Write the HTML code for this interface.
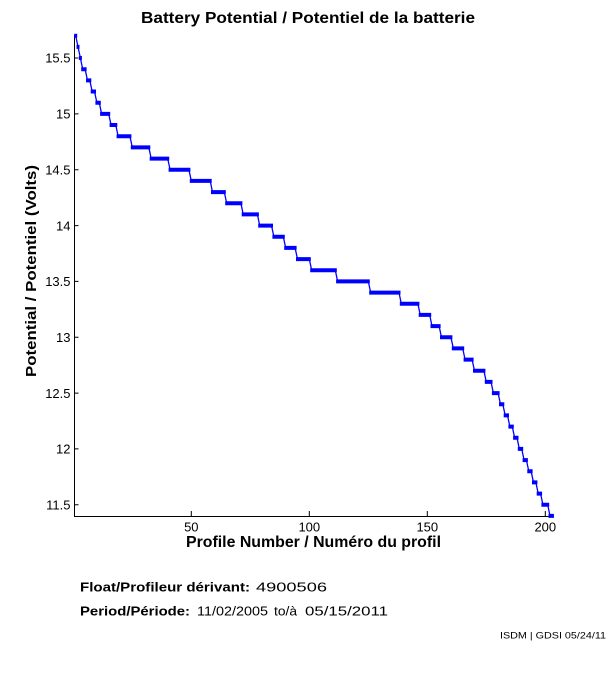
<!DOCTYPE html>
<html><head><meta charset="utf-8"><style>
html,body{margin:0;padding:0;background:#fff;}
svg{display:block;}
text{font-family:"Liberation Sans",Arial,sans-serif;fill:#000;}
</style></head><body>
<svg width="611" height="675" viewBox="0 0 611 675" xmlns="http://www.w3.org/2000/svg">
<rect width="611" height="675" fill="#fff"/>
<text x="141" y="23" font-size="16" font-weight="bold" textLength="334" lengthAdjust="spacingAndGlyphs">Battery Potential / Potentiel de la batterie</text>
<!-- axes -->
<path d="M74.5 35V516.5H554" fill="none" stroke="#000" stroke-width="1"/>
<!-- y ticks -->
<path d="M74 504.7H78.5M74 448.9H78.5M74 393.1H78.5M74 337.2H78.5M74 281.4H78.5M74 225.6H78.5M74 169.7H78.5M74 113.9H78.5M74 58H78.5" stroke="#000" stroke-width="1"/>
<!-- x ticks -->
<path d="M191.3 516V511M309.3 516V511M427.3 516V511M545.3 516V511" stroke="#000" stroke-width="1"/>
<g font-size="13" text-anchor="end">
<text x="70.5" y="509.4">11.5</text>
<text x="70.5" y="453.6">12</text>
<text x="70.5" y="397.8">12.5</text>
<text x="70.5" y="341.9">13</text>
<text x="70.5" y="286.1">13.5</text>
<text x="70.5" y="230.3">14</text>
<text x="70.5" y="174.4">14.5</text>
<text x="70.5" y="118.6">15</text>
<text x="70.5" y="62.7">15.5</text>
</g>
<g font-size="13" text-anchor="middle">
<text x="191.3" y="531.5">50</text>
<text x="309.3" y="531.5">100</text>
<text x="427.3" y="531.5">150</text>
<text x="545.3" y="531.5">200</text>
</g>
<text x="186" y="547" font-size="16" font-weight="bold" textLength="255" lengthAdjust="spacingAndGlyphs">Profile Number / Numéro du profil</text>
<text transform="translate(36,271) rotate(-90)" text-anchor="middle" font-size="15" font-weight="bold" textLength="212" lengthAdjust="spacingAndGlyphs">Potential / Potentiel (Volts)</text>
<!-- data line -->
<path fill="none" stroke="#0000ff" stroke-width="1.3" d="M75.7 35.7L78.0 46.9L80.4 58.0L82.7 69.2H85.1L87.5 80.4H89.8L92.2 91.5H94.5L96.9 102.7H99.3L101.6 113.9H108.7L111.1 125.0H115.8L118.1 136.2H129.9L132.3 147.4H148.8L151.2 158.6H167.7L170.1 169.7H188.9L191.3 180.9H210.2L212.5 192.1H224.3L226.7 203.2H240.9L243.2 214.4H257.4L259.7 225.6H271.5L273.9 236.7H283.3L285.7 247.9H295.1L297.5 259.1H309.3L311.7 270.2H335.3L337.6 281.4H368.3L370.7 292.6H399.0L401.3 303.7H417.9L420.2 314.9H429.7L432.0 326.1H439.1L441.5 337.2H450.9L453.3 348.4H462.7L465.1 359.6H472.1L474.5 370.7H483.9L486.3 381.9H491.0L493.4 393.1H498.1L500.5 404.2H502.8L505.2 415.4H507.5L509.9 426.6H512.3L514.6 437.7H517.0L519.3 448.9H521.7L524.1 460.1H526.4L528.8 471.2H531.1L533.5 482.4H535.9L538.2 493.6H540.6L542.9 504.7H547.7L550.0 515.9H552.4"/>
<!-- marker bands -->
<path fill="none" stroke="#0000ff" stroke-width="4" d="M74.2 35.7H77.2M76.5 46.9H79.5M78.9 58.0H81.9M81.2 69.2H86.6M86.0 80.4H91.3M90.7 91.5H96.0M95.4 102.7H100.8M100.1 113.9H110.2M109.6 125.0H117.3M116.6 136.2H131.4M130.8 147.4H150.3M149.7 158.6H169.2M168.6 169.7H190.4M189.8 180.9H211.7M211.0 192.1H225.8M225.2 203.2H242.4M241.7 214.4H258.9M258.2 225.6H273.0M272.4 236.7H284.8M284.2 247.9H296.6M296.0 259.1H310.8M310.2 270.2H336.8M336.1 281.4H369.8M369.2 292.6H400.5M399.8 303.7H419.4M418.7 314.9H431.2M430.5 326.1H440.6M440.0 337.2H452.4M451.8 348.4H464.2M463.6 359.6H473.6M473.0 370.7H485.4M484.8 381.9H492.5M491.9 393.1H499.6M499.0 404.2H504.3M503.7 415.4H509.0M508.4 426.6H513.8M513.1 437.7H518.5M517.8 448.9H523.2M522.6 460.1H527.9M527.3 471.2H532.6M532.0 482.4H537.4M536.7 493.6H542.1M541.4 504.7H549.2M548.5 515.9H553.9"/>
<!-- footer text -->
<text x="80" y="591.3" font-size="13" font-weight="bold" textLength="170" lengthAdjust="spacingAndGlyphs">Float/Profileur dérivant:</text>
<text x="256" y="591.3" font-size="13" textLength="71" lengthAdjust="spacingAndGlyphs">4900506</text>
<text x="80" y="615.3" font-size="13" font-weight="bold" textLength="110" lengthAdjust="spacingAndGlyphs">Period/Période:</text>
<text x="197" y="615.3" font-size="13" textLength="71" lengthAdjust="spacingAndGlyphs">11/02/2005</text>
<text x="274" y="615.3" font-size="13" textLength="23" lengthAdjust="spacingAndGlyphs">to/à</text>
<text x="305" y="615.3" font-size="13" textLength="83" lengthAdjust="spacingAndGlyphs">05/15/2011</text>
<text x="500" y="638.5" font-size="9" textLength="106" lengthAdjust="spacingAndGlyphs">ISDM | GDSI 05/24/11</text>
</svg>
</body></html>
